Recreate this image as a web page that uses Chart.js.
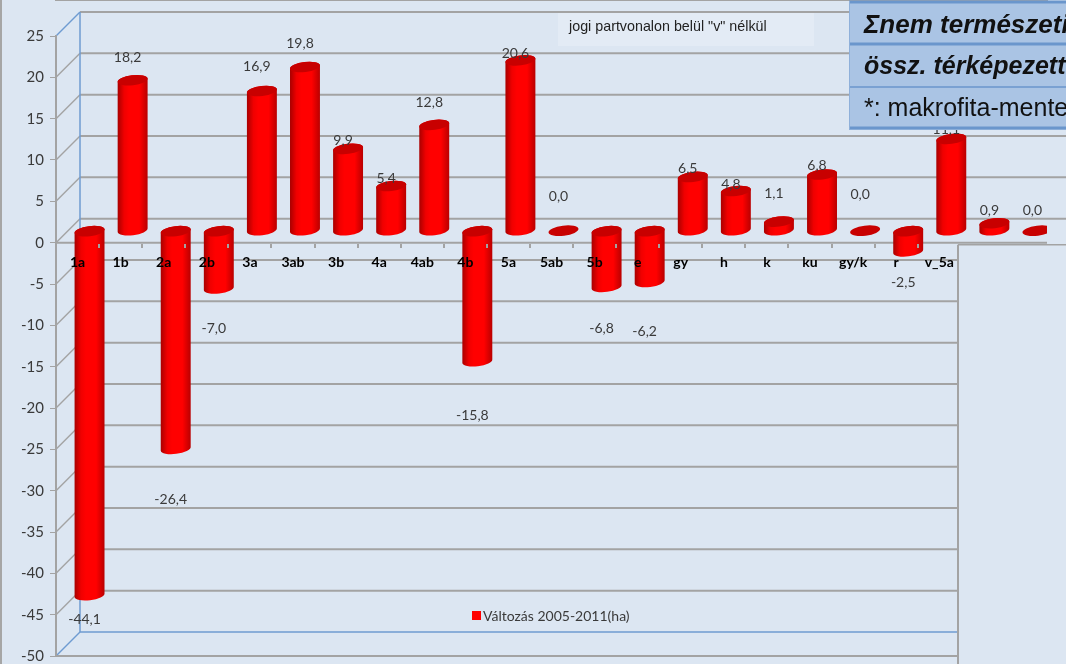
<!DOCTYPE html>
<html><head><meta charset="utf-8">
<style>html,body{margin:0;padding:0;background:#dce6f2;overflow:hidden}canvas{display:block}</style>
<script src="https://cdn.jsdelivr.net/npm/chart.js@4"></script>
</head><body><canvas id="c" width="1066" height="664"></canvas>
<script>
const categories = ['1a','1b','2a','2b','3a','3ab','3b','4a','4ab','4b','5a','5ab','5b','e','gy','h','k','ku','gy/k','r','v_5a','',''];
const valtozas = [-44.1,18.2,-26.4,-7.0,16.9,19.8,9.9,5.4,12.8,-15.8,20.6,0.0,-6.8,-6.2,6.5,4.8,1.1,6.8,0.0,-2.5,11.1,0.9,0.0];
const seriesName = 'Változás 2005-2011(ha)';
const note = 'jogi partvonalon belül "v" nélkül';
const tableRows = ['Σnem természeti','össz. térképezett','*: makrofita-mente'];
// label distance from the tip of each cylinder (layout, not data)
const labelGap = [24,-23,51,40,-24,-24,-8,-8,-22,54,-7,-34,42,50,-8,-7,-28,-9,-36,31,-9,-13,-20];

const DEPTH = 24, BAR_DX = 12, BAR_DY = -12, PATCH_X = 958;
const ROT = -7 * Math.PI / 180, RY = 5;
const GRID = '#a3a3a3', BLUE = '#6f9bd1', FONT = 'Lato, Carlito, sans-serif';

Chart.BarElement.prototype.draw = function (ctx) {
  const rx = this.width / 2, cx = this.x + BAR_DX;
  const topY = Math.min(this.y, this.base) + BAR_DY, botY = Math.max(this.y, this.base) + BAR_DY;
  ctx.save();
  if (botY - topY > 0.5) {
    const g = ctx.createLinearGradient(cx - rx, 0, cx + rx, 0);
    g.addColorStop(0, '#a80000'); g.addColorStop(0.22, '#f00000'); g.addColorStop(0.38, '#ff0000');
    g.addColorStop(0.72, '#ff0000'); g.addColorStop(1, '#b80000');
    ctx.beginPath();
    ctx.ellipse(cx, botY, rx, RY, ROT, 0, Math.PI);
    ctx.ellipse(cx, topY, rx, RY, ROT, Math.PI, Math.PI * 2);
    ctx.closePath();
    ctx.fillStyle = g; ctx.fill();
  }
  ctx.beginPath();
  ctx.ellipse(cx, topY, rx, RY, ROT, 0, Math.PI * 2);
  ctx.fillStyle = '#c80000'; ctx.fill();
  ctx.restore();
};

function line(ctx, x1, y1, x2, y2, color, w) {
  ctx.beginPath(); ctx.moveTo(x1, y1); ctx.lineTo(x2, y2);
  ctx.strokeStyle = color; ctx.lineWidth = w; ctx.stroke();
}

const wall = {
  id: 'wall',
  beforeDraw(chart) {
    const { ctx, scales: { x, y } } = chart, L = x.left, W = chart.width;
    ctx.save();
    ctx.fillStyle = '#dce6f2'; ctx.fillRect(0, 0, W, chart.height);
    line(ctx, 1, 0, 1, chart.height, '#a6a6a6', 2);
    y.ticks.forEach(t => {
      const p = y.getPixelForValue(t.value), b = p - DEPTH;
      const edge = (t.value === 25 || t.value === -50);
      line(ctx, L, p, L + DEPTH, b, edge ? BLUE : GRID, 1.5);
      if (t.value === -50) line(ctx, L + DEPTH, b, PATCH_X, b, BLUE, 1.5);
      else line(ctx, L + DEPTH, b, t.value >= 0 ? W : PATCH_X, b, GRID, 2);
    });
    line(ctx, L, y.bottom, PATCH_X, y.bottom, GRID, 2);
    line(ctx, L + DEPTH, y.top - DEPTH, L + DEPTH, y.bottom - DEPTH, BLUE, 1.5);
    const z = y.getPixelForValue(0);
    line(ctx, L, z, x.right, z, GRID, 2);
    line(ctx, PATCH_X, z + 2, PATCH_X, chart.height, GRID, 2);
    line(ctx, PATCH_X, z + 2, W, z + 2, GRID, 1.5);
    ctx.restore();
  },
  afterDatasetsDraw(chart) {
    const { ctx } = chart, bars = chart.getDatasetMeta(0).data;
    ctx.save();
    ctx.font = '14px ' + FONT; ctx.fillStyle = '#3a3a3a';
    ctx.textAlign = 'center'; ctx.textBaseline = 'middle';
    bars.forEach((b, i) => {
      const s = valtozas[i].toFixed(1).replace('.', ',');
      ctx.fillText(s, b.x + 7, b.y + BAR_DY + labelGap[i]);
    });
    ctx.restore();
  },
  afterDraw(chart) {
    const { ctx, width: W } = chart;
    ctx.save();
    // legend
    ctx.fillStyle = '#ff0000'; ctx.fillRect(472, 611, 9, 9);
    ctx.font = '14px ' + FONT; ctx.fillStyle = '#3a3a3a';
    ctx.textAlign = 'left'; ctx.textBaseline = 'middle';
    ctx.fillText(seriesName, 483, 616);
    // note box
    ctx.fillStyle = '#e3ebf5'; ctx.fillRect(558, 13, 256, 33);
    ctx.font = '14.3px "Liberation Sans", sans-serif'; ctx.fillStyle = '#222';
    ctx.fillText(note, 569, 27);
    // table
    ctx.fillStyle = '#aac4e4'; ctx.fillRect(849, 1, W - 849, 129);
    [[2, 3], [44, 3], [87, 1.5], [128, 3]].forEach(r => line(ctx, 849, r[0], W, r[0], '#6a96cc', r[1]));
    line(ctx, 849.5, 1, 849.5, 130, '#8fb0da', 1);
    ctx.fillStyle = '#111';
    ctx.font = 'italic bold 26px "Liberation Sans", sans-serif'; ctx.fillText(tableRows[0], 864, 26);
    ctx.font = 'italic bold 25px "Liberation Sans", sans-serif'; ctx.fillText(tableRows[1], 864, 67);
    ctx.font = '25px "Liberation Sans", sans-serif'; ctx.fillText(tableRows[2], 864, 109);
    ctx.restore();
  }
};

new Chart(document.getElementById('c'), {
  type: 'bar',
  data: { labels: categories, datasets: [{ label: seriesName, data: valtozas, backgroundColor: '#ff0000', barPercentage: 0.7, categoryPercentage: 1 }] },
  plugins: [wall],
  options: {
    responsive: false, animation: false,
    layout: { autoPadding: false, padding: { top: 36, bottom: 8, left: 0, right: 19 } },
    plugins: { legend: { display: false }, tooltip: { enabled: false } },
    scales: {
      x: {
        position: { y: 0 },
        border: { color: GRID, width: 2, z: 0 },
        afterFit: s => { s.paddingLeft = 0; s.paddingRight = 0; s.paddingTop = 0; s.paddingBottom = 0; },
        grid: { drawOnChartArea: false, drawTicks: true, tickLength: 4, z: 1, lineWidth: 2, color: GRID, tickColor: c => c.index < 21 ? GRID : 'rgba(0,0,0,0)' },
        ticks: { z: 1, autoSkip: false, maxRotation: 0, minRotation: 0, padding: 7, color: '#000', font: { family: FONT, size: 14, weight: 'bold' } }
      },
      y: {
        min: -50, max: 25,
        afterFit: s => { s.width = 56; s.paddingTop = 0; s.paddingBottom = 0; },
        border: { color: GRID, width: 2 },
        grid: { drawOnChartArea: false, drawTicks: true, tickLength: 6, color: GRID },
        ticks: { stepSize: 5, padding: 6, color: '#3a3a3a', font: { family: FONT, size: 15 } }
      }
    }
  }
});
</script></body></html>
